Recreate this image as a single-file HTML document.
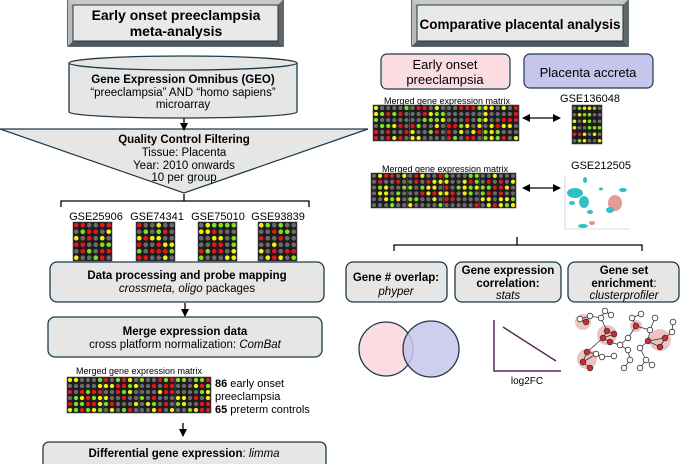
<!DOCTYPE html>
<html><head><meta charset="utf-8"><style>
html,body{margin:0;padding:0;background:#fff;}
svg{display:block;font-family:"Liberation Sans",sans-serif;}
</style></head><body>
<svg id="s" width="685" height="464" viewBox="0 0 685 464" xmlns="http://www.w3.org/2000/svg">
<defs>
<marker id="ah" markerWidth="8" markerHeight="8" refX="7" refY="4" orient="auto" markerUnits="userSpaceOnUse"><path d="M0,0 L8,4 L0,8 z" fill="#000"/></marker>
<marker id="as" markerWidth="8" markerHeight="8" refX="1" refY="4" orient="auto" markerUnits="userSpaceOnUse"><path d="M8,0 L0,4 L8,8 z" fill="#000"/></marker>
</defs>
<g>
<rect x="68" y="0" width="215" height="46" fill="#9a9a9a" stroke="#1d3b4a" stroke-width="1.5"/>
<polygon points="68,0 283,0 278,5 73,5" fill="#c8c8c8"/>
<polygon points="68,46 283,46 278,41 73,41" fill="#555"/>
<polygon points="283,0 283,46 278,41 278,5" fill="#666"/>
<polygon points="68,0 68,46 73,41 73,5" fill="#bbb"/>
<rect x="73" y="5" width="205" height="36" fill="#e9e9e9" stroke="#1d3b4a" stroke-width="1"/>
<text x="176" y="20" font-size="14" font-weight="bold" text-anchor="middle">Early onset preeclampsia</text>
<text x="176" y="36" font-size="14" font-weight="bold" text-anchor="middle">meta-analysis</text>
</g>
<g>
<rect x="412" y="0" width="216" height="46" fill="#9a9a9a" stroke="#1d3b4a" stroke-width="1.5"/>
<polygon points="412,0 628,0 623,5 417,5" fill="#c8c8c8"/>
<polygon points="412,46 628,46 623,41 417,41" fill="#555"/>
<polygon points="628,0 628,46 623,41 623,5" fill="#666"/>
<polygon points="412,0 412,46 417,41 417,5" fill="#bbb"/>
<rect x="417" y="5" width="206" height="36" fill="#e9e9e9" stroke="#1d3b4a" stroke-width="1"/>
<text x="520" y="29" font-size="13.5" font-weight="bold" text-anchor="middle">Comparative placental analysis</text>
</g>
<path d="M69,63 L69,112 A114,6 0 0 0 297,112 L297,63" fill="#e6e6e6" stroke="#1d3b4a" stroke-width="1.3"/>
<ellipse cx="183" cy="63" rx="114" ry="7" fill="#e6e6e6" stroke="#1d3b4a" stroke-width="1.3"/>
<text x="183" y="83" font-size="11.5" font-weight="bold" text-anchor="middle">Gene Expression Omnibus (GEO)</text>
<text x="183" y="96" font-size="11.5" text-anchor="middle">“preeclampsia” AND “homo sapiens”</text>
<text x="183" y="108" font-size="11.5" text-anchor="middle">microarray</text>
<polygon points="0,129 368,129 184,193" fill="#e6e6e6" stroke="#1d3b4a" stroke-width="1.2"/>
<line x1="184" y1="118" x2="184" y2="130" stroke="#000" stroke-width="1.3" marker-end="url(#ah)"/>
<text x="184" y="143" font-size="11.5" font-weight="bold" text-anchor="middle">Quality Control Filtering</text>
<text x="184" y="156" font-size="11.5" text-anchor="middle">Tissue: Placenta</text>
<text x="184" y="169" font-size="11.5" text-anchor="middle">Year: 2010 onwards</text>
<text x="184" y="181" font-size="11.5" text-anchor="middle">10 per group</text>
<path d="M61,207 L61,201 L309,201 L309,207 M184,201 L184,194" fill="none" stroke="#000" stroke-width="1.3"/>
<text x="96" y="220" font-size="11" text-anchor="middle">GSE25906</text>
<text x="157" y="220" font-size="11" text-anchor="middle">GSE74341</text>
<text x="218" y="220" font-size="11" text-anchor="middle">GSE75010</text>
<text x="278" y="220" font-size="11" text-anchor="middle">GSE93839</text>
<g id="arrays"></g>
<rect x="50" y="262" width="274" height="40" rx="7" fill="#e6e6e6" stroke="#1d3b4a" stroke-width="1.3"/>
<text x="187" y="279" font-size="11.5" font-weight="bold" text-anchor="middle">Data processing and probe mapping</text>
<text x="187" y="292" font-size="11.5" text-anchor="middle"><tspan font-style="italic">crossmeta, oligo</tspan> packages</text>
<line x1="185" y1="303" x2="185" y2="316" stroke="#000" stroke-width="1.3" marker-end="url(#ah)"/>
<rect x="48" y="317" width="274" height="40" rx="7" fill="#e6e6e6" stroke="#1d3b4a" stroke-width="1.3"/>
<text x="185" y="335" font-size="11.5" font-weight="bold" text-anchor="middle">Merge expression data</text>
<text x="185" y="348" font-size="11.5" text-anchor="middle">cross platform normalization: <tspan font-style="italic">ComBat</tspan></text>
<text x="139" y="374" font-size="9" text-anchor="middle">Merged gene expression matrix</text>
<text x="215" y="387" font-size="11"><tspan font-weight="bold">86</tspan> early onset</text>
<text x="215" y="400" font-size="11">preeclampsia</text>
<text x="215" y="413" font-size="11"><tspan font-weight="bold">65</tspan> preterm controls</text>
<line x1="183" y1="423" x2="183" y2="436" stroke="#000" stroke-width="1.3" marker-end="url(#ah)"/>
<rect x="43" y="442" width="283" height="30" rx="6" fill="#e6e6e6" stroke="#1d3b4a" stroke-width="1.3"/>
<text x="184" y="457" font-size="11.5" text-anchor="middle"><tspan font-weight="bold">Differential gene expression</tspan>: <tspan font-style="italic">limma</tspan></text>
<rect x="381" y="54" width="129" height="35" rx="6" fill="#fadce1" stroke="#1d3b4a" stroke-width="1.2"/>
<text x="445" y="69" font-size="13" text-anchor="middle">Early onset</text>
<text x="445" y="84" font-size="13" text-anchor="middle">preeclampsia</text>
<rect x="524" y="54" width="129" height="34" rx="6" fill="#c6c6ec" stroke="#1d3b4a" stroke-width="1.2"/>
<text x="588" y="77" font-size="13" text-anchor="middle">Placenta accreta</text>
<text x="447" y="104" font-size="9" text-anchor="middle">Merged gene expression matrix</text>
<text x="590" y="102" font-size="11" text-anchor="middle">GSE136048</text>
<line x1="523" y1="118" x2="560" y2="118" stroke="#000" stroke-width="1.3" marker-end="url(#ah)" marker-start="url(#as)"/>
<text x="445" y="172" font-size="9" text-anchor="middle">Merged gene expression matrix</text>
<text x="601" y="169" font-size="11" text-anchor="middle">GSE212505</text>
<line x1="523" y1="188" x2="560" y2="188" stroke="#000" stroke-width="1.3" marker-end="url(#ah)" marker-start="url(#as)"/>
<g>
<path d="M565,175 L565,229 L630,229" fill="none" stroke="#bbb" stroke-width="0.6"/>
<ellipse cx="575" cy="193" rx="8" ry="5" fill="#2fc0c6"/>
<ellipse cx="584" cy="202" rx="5" ry="6" fill="#2fc0c6"/>
<ellipse cx="572" cy="203" rx="3" ry="2" fill="#2fc0c6"/>
<ellipse cx="585" cy="180" rx="2" ry="3" fill="#2fc0c6"/>
<ellipse cx="590" cy="212" rx="3" ry="2" fill="#2fc0c6"/>
<ellipse cx="583" cy="226" rx="5" ry="2" fill="#2fc0c6"/>
<ellipse cx="592" cy="223" rx="3" ry="2" fill="#e88"/>
<ellipse cx="615" cy="203" rx="7" ry="8" fill="#e89a96"/>
<ellipse cx="610" cy="210" rx="4" ry="3" fill="#2fc0c6"/>
<ellipse cx="623" cy="190" rx="4" ry="2" fill="#2fc0c6"/>
<ellipse cx="601" cy="189" rx="2" ry="1.5" fill="#2fc0c6"/>
</g>
<path d="M394,251 L394,245 L642,245 L642,251 M517,245 L517,237" fill="none" stroke="#000" stroke-width="1.3"/>
<rect x="346" y="262" width="101" height="40" rx="7" fill="#e6e6e6" stroke="#1d3b4a" stroke-width="1.3"/>
<text x="396" y="281" font-size="11.5" font-weight="bold" text-anchor="middle">Gene # overlap:</text>
<text x="396" y="295" font-size="11.5" font-style="italic" text-anchor="middle">phyper</text>
<rect x="455" y="262" width="106" height="40" rx="7" fill="#e6e6e6" stroke="#1d3b4a" stroke-width="1.3"/>
<text x="508" y="274" font-size="11.5" font-weight="bold" text-anchor="middle">Gene expression</text>
<text x="508" y="287" font-size="11.5" font-weight="bold" text-anchor="middle">correlation:</text>
<text x="508" y="299" font-size="11.5" font-style="italic" text-anchor="middle">stats</text>
<rect x="568" y="262" width="111" height="40" rx="7" fill="#e6e6e6" stroke="#1d3b4a" stroke-width="1.3"/>
<text x="624" y="274" font-size="11.5" font-weight="bold" text-anchor="middle">Gene set</text>
<text x="624" y="287" font-size="11.5" text-anchor="middle"><tspan font-weight="bold">enrichment</tspan>:</text>
<text x="624" y="299" font-size="11.5" font-style="italic" text-anchor="middle">clusterprofiler</text>
<circle cx="386" cy="349" r="27" fill="#fadce1" stroke="#1d3b4a" stroke-width="1.3"/>
<circle cx="431" cy="349" r="28" fill="#c6c6ec" fill-opacity="0.85" stroke="#1d3b4a" stroke-width="1.3"/>
<path d="M494,320 L494,371 L561,371" fill="none" stroke="#5a2a5a" stroke-width="1.5"/>
<line x1="503" y1="327" x2="556" y2="361" stroke="#5a2a5a" stroke-width="1.5"/>
<text x="527" y="384" font-size="10" text-anchor="middle">log2FC</text>
<g id="net"></g>
</svg>
<script>
(function(){
var NS="http://www.w3.org/2000/svg",g=document.getElementById('arrays');
function el(t,a,p){var e=document.createElementNS(NS,t);for(var k in a)e.setAttribute(k,a[k]);(p||g).appendChild(e);return e;}
var seed=7;function rnd(){seed=(seed*9301+49297)%233280;return seed/233280;}
var pal=['#6a6a6a','#6a6a6a','#e8141b','#f2ee12','#7de11e'];
function block(x,y,w,h){el('rect',{x:x,y:y,width:w,height:h,fill:'#1c1c1c',stroke:'#555','stroke-width':0.6});
var dx=w/6,dy=h/6,r=Math.min(dx,dy)*0.36;
for(var i=0;i<6;i++)for(var j=0;j<6;j++){el('circle',{cx:x+dx*(j+0.5),cy:y+dy*(i+0.5),r:r,fill:pal[Math.floor(rnd()*5)]});}}
[[73,222],[136,222],[198,222],[258,222]].forEach(function(p){block(p[0],p[1],39,39);});
function merged(x,y,w,h){for(var k=0;k<4;k++)block(x+k*w/4,y,w/4,h);}
merged(67,377,144,36);merged(373,105,146,36);merged(371,173,145,35);
block(572,105,30,39);
var n=document.getElementById('net');
[[583,322,8],[607,335,10],[587,359,10],[636,326,6],[660,340,11]].forEach(function(c){el('circle',{cx:c[0],cy:c[1],r:c[2],fill:'#e8a7a7','fill-opacity':0.7},n);});
var pts=[[586,322],[580,319],[590,316],[601,318],[605,311],[611,315],[607,331],[603,338],[610,342],[614,334],[620,345],[628,338],[636,326],[632,318],[641,314],[650,330],[648,341],[660,347],[665,338],[672,332],[673,322],[655,318],[628,350],[640,348],[630,360],[646,360],[640,368],[652,365],[587,352],[583,362],[590,368],[596,354],[602,357],[614,356],[624,368]];
var red=[0,6,7,8,9,12,16,17,18,28,29,30];
var edges=[];
for(var i=1;i<pts.length;i++){var best=0,bd=1e9;for(var j=0;j<i;j++){var d=Math.pow(pts[i][0]-pts[j][0],2)+Math.pow(pts[i][1]-pts[j][1],2);if(d<bd){bd=d;best=j;}}edges.push([i,best]);}
edges.push([1,2],[7,9],[16,18],[28,31],[29,31]);
edges.forEach(function(e){var a=pts[e[0]],b=pts[e[1]];el('line',{x1:a[0],y1:a[1],x2:b[0],y2:b[1],stroke:'#333','stroke-width':0.8},n);});
pts.forEach(function(p,i){el('circle',{cx:p[0],cy:p[1],r:2.8,fill:red.indexOf(i)>=0?'#d42a2a':'#fff',stroke:'#333','stroke-width':0.8},n);});
})();
</script>
</body></html>
